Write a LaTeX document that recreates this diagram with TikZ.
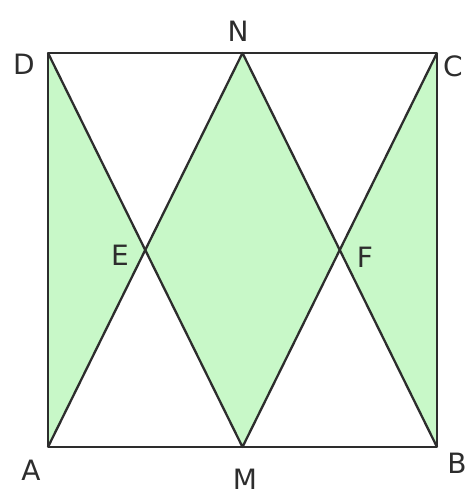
\documentclass[tikz,border=0pt]{standalone}
\usepackage{fontspec}
\setmainfont{DejaVu Sans}
\definecolor{regiongreen}{RGB}{200,248,200}
\definecolor{edge}{RGB}{45,45,45}
\begin{document}
\begin{tikzpicture}[x=1pt, y=1pt, line width=2.3pt, line join=round,
  every node/.style={font=\fontsize{28}{34}\selectfont, text=edge, inner sep=0pt},
  side/.style={draw=edge}, region/.style={fill=regiongreen}]
  \useasboundingbox (0,0) rectangle (468,495);
  % corners and midpoints
  \coordinate (A) at (48,48);
  \coordinate (B) at (437,48);
  \coordinate (C) at (437,442);
  \coordinate (D) at (48,442);
  \coordinate (M) at (242.5,48);
  \coordinate (N) at (242.5,442);
  \coordinate (E) at (intersection of D--M and A--N);
  \coordinate (F) at (intersection of N--B and M--C);
  % green parts
  \fill[region] (A) -- (D) -- (E) -- cycle;
  \fill[region] (E) -- (N) -- (F) -- (M) -- cycle;
  \fill[region] (F) -- (C) -- (B) -- cycle;
  % square and segments
  \draw[side] (A) -- (B) -- (C) -- (D) -- cycle;
  \draw[side] (D) -- (M) -- (C);
  \draw[side] (A) -- (N) -- (B);
  % labels
  \node (lD) at (24,431) {D};
  \node (lN) at (238,464) {N};
  \node (lC) at (453,429) {C};
  \node (lE) at (120,240) {E};
  \node (lF) at (365,238) {F};
  \node (lA) at (31,25) {A};
  \node (lM) at (245,16) {M};
  \node (lB) at (457,32) {B};
\end{tikzpicture}
\end{document}
